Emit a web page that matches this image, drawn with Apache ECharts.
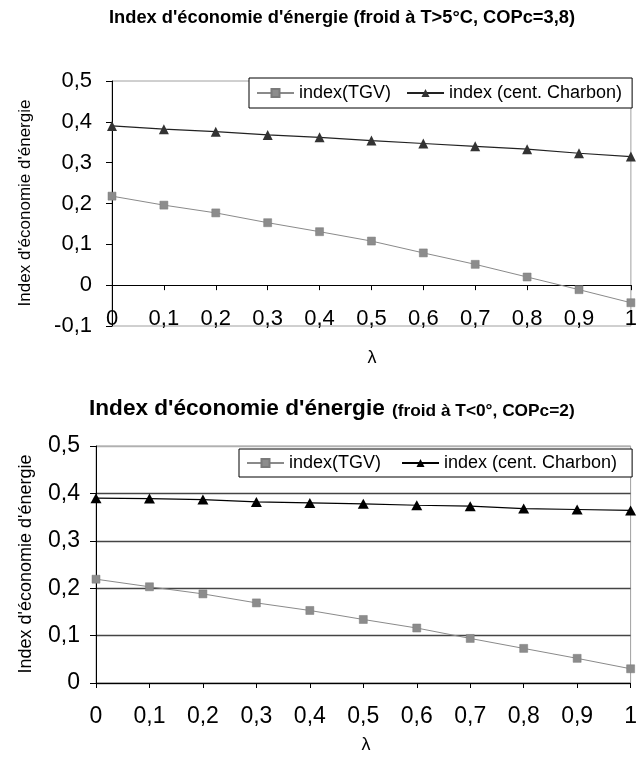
<!DOCTYPE html>
<html>
<head>
<meta charset="utf-8">
<script src="https://cdn.jsdelivr.net/npm/echarts@6/dist/echarts.min.js"></script>
<style>
html,body{margin:0;padding:0;background:#fff;}
#c{width:640px;height:759px;}
</style>
</head>
<body>
<div id="c"></div>
<script>
// ---- data ----
var lambda = [0, 0.1, 0.2, 0.3, 0.4, 0.5, 0.6, 0.7, 0.8, 0.9, 1];
var tgvTop = [0.218, 0.196, 0.177, 0.153, 0.131, 0.108, 0.079, 0.051, 0.020, -0.011, -0.043];
var charbonTop = [0.390, 0.382, 0.376, 0.368, 0.362, 0.354, 0.347, 0.340, 0.333, 0.323, 0.315];
var tgvBottom = [0.219, 0.203, 0.188, 0.169, 0.153, 0.134, 0.116, 0.094, 0.073, 0.052, 0.030];
var charbonBottom = [0.390, 0.389, 0.387, 0.382, 0.380, 0.378, 0.375, 0.373, 0.368, 0.366, 0.364];
var seriesNames = ['index(TGV)', 'index (cent. Charbon)'];
var titleTop = "Index d'économie d'énergie (froid à T>5°C, COPc=3,8)";
var titleBottomMain = "Index d'économie d'énergie";
var titleBottomSub = "(froid à T<0°, COPc=2)";
var yName = "Index d'économie d'énergie";
var xName = "λ";

function pairs(xs, ys){ return xs.map(function(x,i){ return [x, ys[i]]; }); }
function fmt(v){ return String(+(+v).toFixed(1)).replace('.', ','); }

var FONT = '"Liberation Sans", Arial, sans-serif';
var chart = echarts.init(document.getElementById('c'), null, {renderer:'canvas'});

function xAxisCfg(gi, fs, margin){
  return {
    type:'value', gridIndex:gi, min:0, max:1, interval:0.1,
    axisLine:{show:true, onZero:true, lineStyle:{color:'#000', width:1}},
    axisTick:{show:true, length:5, inside:false, lineStyle:{color:'#000'}},
    axisLabel:{formatter:fmt, fontFamily:FONT, fontSize:fs, color:'#000', margin:margin, showMinLabel:true, showMaxLabel:true},
    splitLine:{show:false}
  };
}

var option = {
  animation:false,
  backgroundColor:'#fff',
  grid:[
    {left:112, top:81, width:520, height:245, show:true, borderColor:'#a0a0a0', borderWidth:1, backgroundColor:'transparent'},
    {left:96, top:446, width:540, height:237, show:true, borderColor:'#a0a0a0', borderWidth:1, backgroundColor:'transparent'}
  ],
  xAxis:[ xAxisCfg(0, 22, -18), xAxisCfg(1, 23, 22) ],
  yAxis:[
    {type:'value', gridIndex:0, min:-0.1, max:0.5, interval:0.1,
     axisLine:{show:true, lineStyle:{color:'#000'}},
     axisTick:{show:true, length:6, lineStyle:{color:'#000'}},
     axisLabel:{formatter:fmt, fontFamily:FONT, fontSize:22, color:'#000', margin:20},
     splitLine:{show:false}},
    {type:'value', gridIndex:1, min:0, max:0.5, interval:0.1,
     axisLine:{show:true, lineStyle:{color:'#000'}},
     axisTick:{show:true, length:6, lineStyle:{color:'#000'}},
     axisLabel:{formatter:fmt, fontFamily:FONT, fontSize:23, color:'#000', margin:16},
     splitLine:{show:true, lineStyle:{color:['#444','#444','#444','#444','#444','#b0b0b0'], width:1.4}}}
  ],
  legend:[
    {data:seriesNames, left:249, top:78, orient:'horizontal', itemWidth:37, itemHeight:10, itemGap:15,
     padding:[6,10,6,7], borderColor:'#000', borderWidth:1, backgroundColor:'#fff',
     textStyle:{fontFamily:FONT, fontSize:18, color:'#000'}, selectedMode:false},
    {data:[seriesNames[0]+' ', seriesNames[1]+' '], left:239, top:449, orient:'horizontal', itemWidth:37, itemHeight:10, itemGap:15,
     padding:[5,10,5,7], borderColor:'#000', borderWidth:1, backgroundColor:'#fff',
     textStyle:{fontFamily:FONT, fontSize:18, color:'#000'}, selectedMode:false}
  ],
  series:[
    {name:seriesNames[0], type:'line', xAxisIndex:0, yAxisIndex:0, data:pairs(lambda, tgvTop),
     symbol:'rect', symbolSize:8, lineStyle:{color:'#8a8a8a', width:1},
     itemStyle:{color:'#8c8c8c', borderColor:'#7a7a7a', borderWidth:0.5}},
    {name:seriesNames[1], type:'line', xAxisIndex:0, yAxisIndex:0, data:pairs(lambda, charbonTop),
     symbol:'triangle', symbolSize:[10,10], lineStyle:{color:'#222', width:1.2},
     itemStyle:{color:'#333'}},
    {name:seriesNames[0]+' ', type:'line', xAxisIndex:1, yAxisIndex:1, data:pairs(lambda, tgvBottom),
     symbol:'rect', symbolSize:8, lineStyle:{color:'#8a8a8a', width:1},
     itemStyle:{color:'#8c8c8c', borderColor:'#7a7a7a', borderWidth:0.5}},
    {name:seriesNames[1]+' ', type:'line', xAxisIndex:1, yAxisIndex:1, data:pairs(lambda, charbonBottom),
     symbol:'triangle', symbolSize:[11,10], lineStyle:{color:'#000', width:1.2},
     itemStyle:{color:'#000'}}
  ],
  graphic:[
    {type:'text', left:109, top:9, style:{text:titleTop, font:'bold 18.3px '+FONT, fill:'#000'}},
    {type:'text', left:89, top:397, style:{text:titleBottomMain, font:'bold 22.6px '+FONT, fill:'#000'}},
    {type:'text', left:392, top:403, style:{text:titleBottomSub, font:'bold 17.3px '+FONT, fill:'#000'}},
    {type:'text', x:25, y:203, rotation:Math.PI/2, style:{text:yName, font:'17px '+FONT, fill:'#000', align:'center', verticalAlign:'middle'}},
    {type:'text', x:26, y:564, rotation:Math.PI/2, style:{text:yName, font:'18px '+FONT, fill:'#000', align:'center', verticalAlign:'middle'}},
    {type:'text', x:372, y:358, style:{text:xName, font:'18px '+FONT, fill:'#000', align:'center', verticalAlign:'middle'}},
    {type:'text', x:366, y:745, style:{text:xName, font:'18px '+FONT, fill:'#000', align:'center', verticalAlign:'middle'}}
  ]
};
chart.setOption(option);
</script>
</body>
</html>
